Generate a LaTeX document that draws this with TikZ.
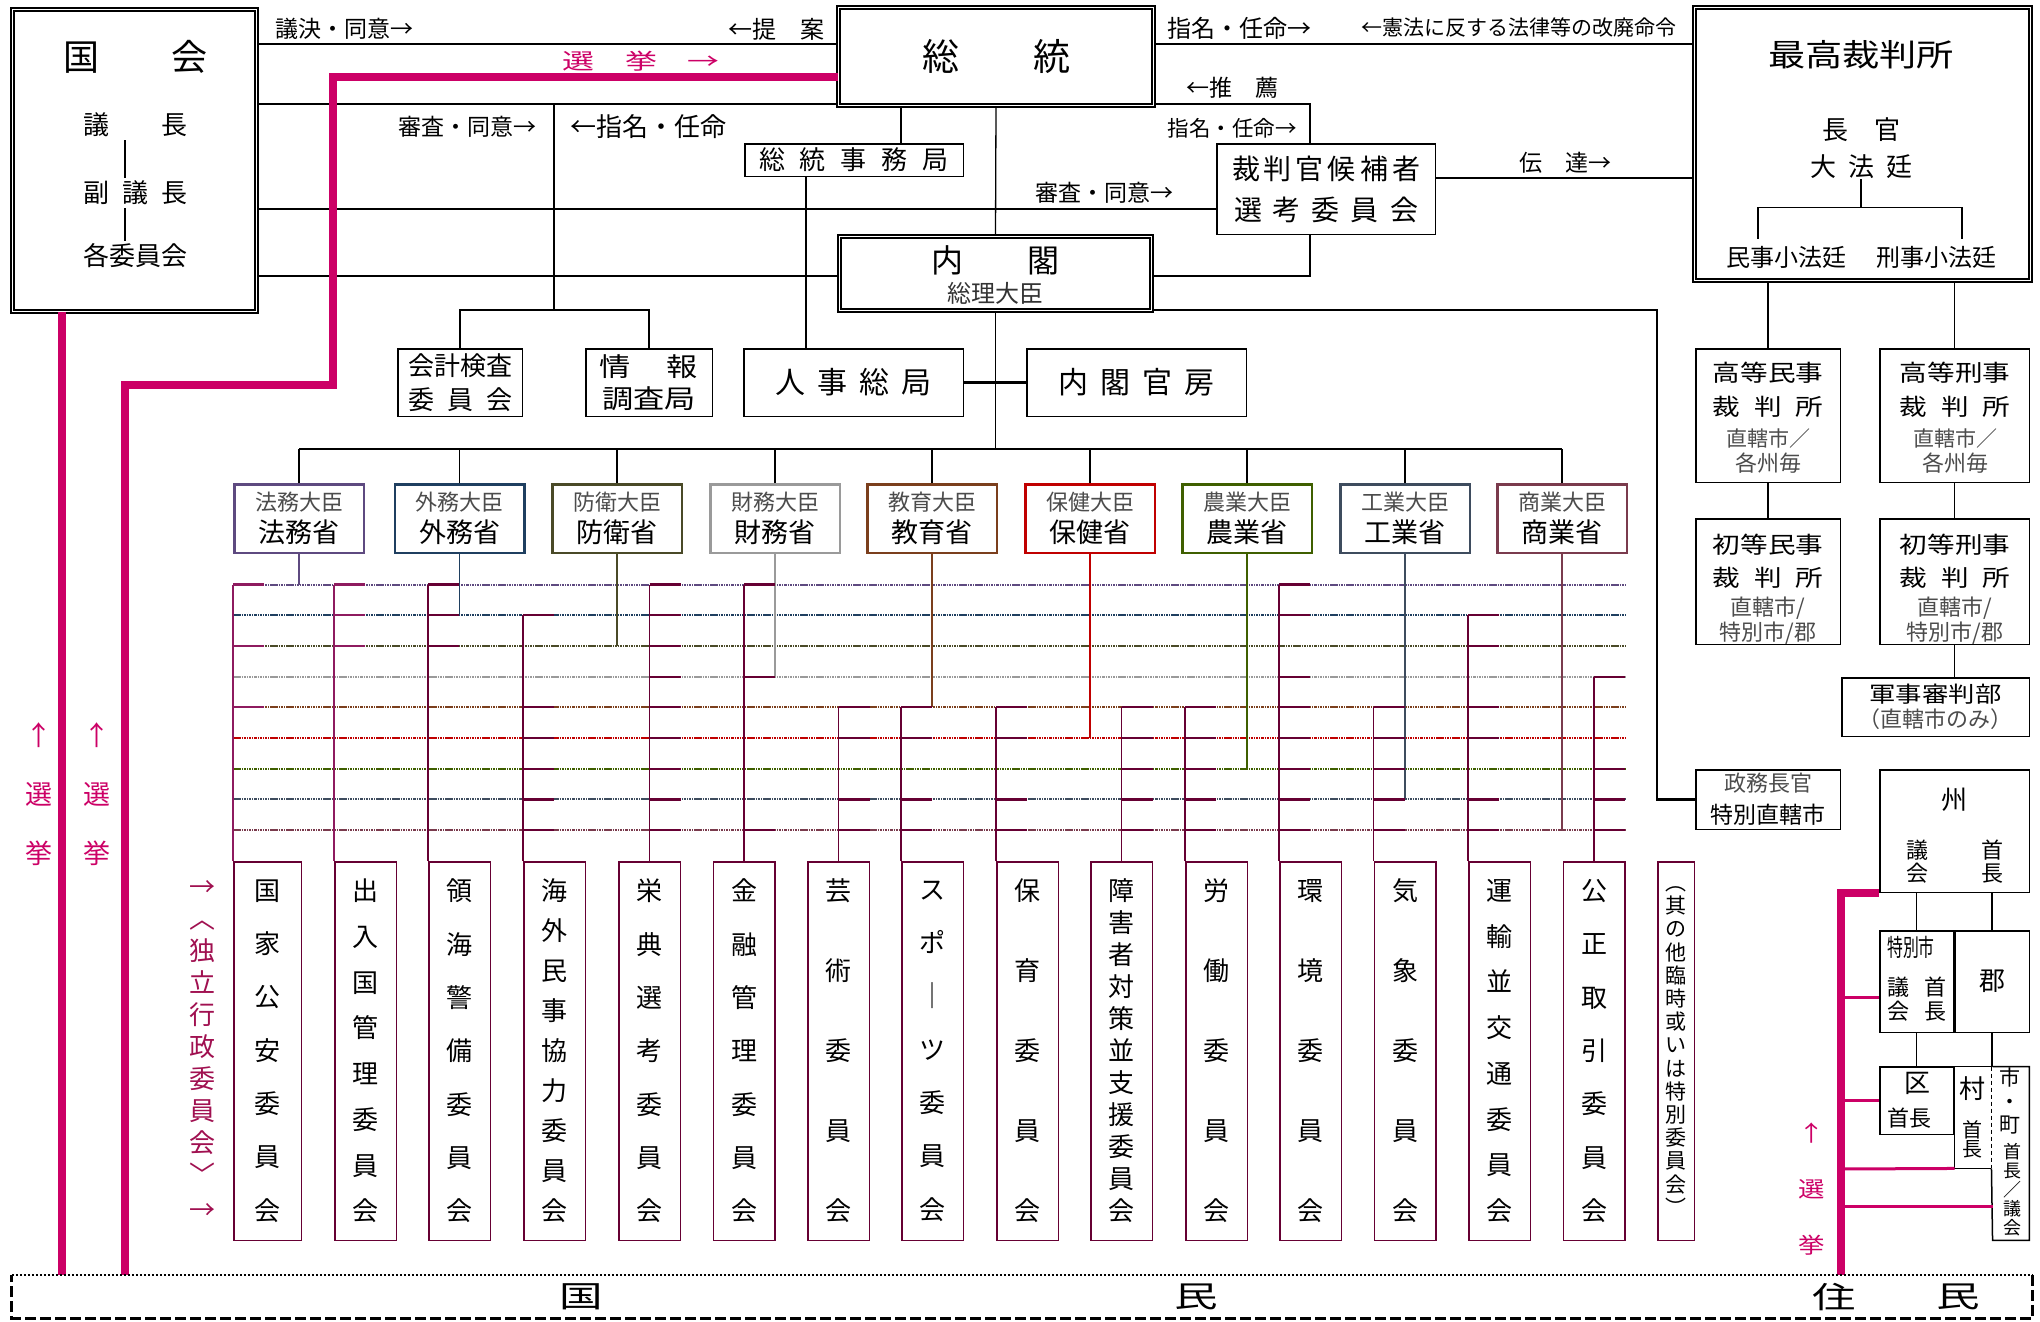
\documentclass[tikz,border=0pt]{standalone}
\usepackage{fontspec}
\usepackage{graphicx}
\setmainfont{Noto Sans CJK JP}
\newfontfamily\widefont{Noto Sans CJK JP}[FakeStretch=1.2]
\newfontfamily\xwidefont{Noto Sans CJK JP}[FakeStretch=1.45]
\usetikzlibrary{positioning,calc}
\definecolor{minpurple}{HTML}{5E4A80}
\definecolor{minnavy}{HTML}{1F3F60}
\definecolor{minolive}{HTML}{4A4A28}
\definecolor{mingray}{HTML}{9A9A9A}
\definecolor{minbrown}{HTML}{7B3F1D}
\definecolor{minred}{HTML}{C00000}
\definecolor{mingreen}{HTML}{3F5F00}
\definecolor{minslate}{HTML}{3E4C5E}
\definecolor{minrose}{HTML}{7A3B4D}
\definecolor{commaroon}{HTML}{660033}
\definecolor{commagenta}{HTML}{8E1B5F}
\definecolor{elecpink}{HTML}{CC0066}
\definecolor{indepred}{HTML}{A01050}
\newcommand\fsz[2]{\fontsize{#1}{#2}\selectfont}
\newcommand\gp[1]{\hspace{#1pt}}

\begin{document}
\begin{tikzpicture}[
  x=1pt, y=-1pt,
  font=\fsz{23}{26},
  txt/.style={inner sep=0pt, align=center},
  box/.style={draw, line width=1.5pt, inner sep=0pt, align=center},
  dbox/.style={draw, line width=1.5pt, double=white, double distance=1.6pt, inner sep=0pt, align=center},
  minbox/.style={draw, line width=2.5pt, minimum width=129.5pt, minimum height=68.5pt,
    inner sep=0pt, align=center, font=\fsz{27}{32}},
  combox/.style={draw=commaroon, line width=1.5pt, minimum width=61.5pt, minimum height=378.5pt,
    inner sep=0pt, align=center},
  link/.style={line width=1.3pt},
  heavy/.style={line width=2.4pt},
  elec/.style={draw=elecpink, line width=8pt},
  electhin/.style={draw=elecpink, line width=3pt},
  bus/.style={line width=2pt, dash pattern=on 2.5pt off 0.8pt on 1.2pt off 0.8pt},
  cvert/.style={line width=1.8pt},
  stub/.style={line width=2.2pt},
]
\path[use as bounding box, fill=white] (0,0) rectangle (2040,1322);

% national assembly
\node[dbox, minimum width=244pt, minimum height=302pt] (kokkai) at (134.5,160.5) {};
\node[txt, font=\fsz{36}{40}] (kokkaiT) at (135,57) {国　　会};
\node[txt, font=\fsz{26}{30}, inner sep=3pt] (gichou) at (135,125) {議　　長};
\node[txt, font=\fsz{26}{30}, inner sep=3pt] (fukugichou) at (135,193) {副\gp{13}議\gp{13}長};
\node[txt, font=\fsz{26}{30}, inner sep=3pt] (iinkai) at (135,256) {各委員会};

% president, cabinet
\node[dbox, minimum width=315pt, minimum height=98pt, font=\fsz{37}{40}] (soutou) at (996,56.5) {総　　統};
\node[box, minimum width=218.5pt, minimum height=32.5pt, font=\fsz{26}{30}] (jimukyoku) at (854,160) {総\gp{15}統\gp{15}事\gp{15}務\gp{15}局};
\node[dbox, minimum width=312pt, minimum height=74pt] (naikaku) at (995.5,273.5) {};
\node[txt, font=\fsz{32}{36}] (naikakuT) at (995.5,260) {内　　閣};
\node[txt, font=\fsz{24}{28}, color=black!80] (souri) at (995.5,293) {総理大臣};
\node[box, minimum width=218.5pt, minimum height=90.5pt, font=\fsz{28}{41}] (senkou) at (1326,189)
  {裁\gp{4}判\gp{4}官\gp{4}候\gp{4}補\gp{4}者\\選\gp{11}考\gp{11}委\gp{11}員\gp{11}会};

\node[box, minimum width=124.5pt, minimum height=67.5pt, font=\fsz{26}{34}] (kaikei) at (460,382.5) {会計検査\\委\gp{13}員\gp{13}会};
\node[box, minimum width=126.5pt, minimum height=67.5pt, font=\widefont\fsz{26}{32}] (jouhou) at (649,382.5) {情\gp{36}報\\調査局};
\node[box, minimum width=219.5pt, minimum height=67.5pt, font=\fsz{30}{34}] (jinji) at (853.5,382.5) {人\gp{12}事\gp{12}総\gp{12}局};
\node[box, minimum width=219.5pt, minimum height=67.5pt, font=\fsz{30}{34}] (kanbou) at (1136.5,382.5) {内\gp{12}閣\gp{12}官\gp{12}房};

% supreme court
\node[dbox, minimum width=336pt, minimum height=273pt] (saikou) at (1862.5,144) {};
\node[txt, font=\widefont\fsz{31}{34}] (saikouT) at (1861,55) {最高裁判所};
\node[txt, font=\fsz{26}{30}] (choukan) at (1861,130) {長　官};
\node[txt, font=\fsz{26}{30}] (daihoutei) at (1861,167) {大\gp{12}法\gp{12}廷};
\node[txt, font=\fsz{24}{28}, inner sep=7pt] (minji) at (1786,257) {民事小法廷};
\node[txt, font=\fsz{24}{28}, inner sep=7pt] (keiji) at (1936,257) {刑事小法廷};

% courts
\node[box, minimum width=144.5pt, minimum height=133.5pt] (kouminji) at (1768,415.5) {};
\node[txt, font=\fsz{23}{33}] (kouminjiT) at (1768,418)
  {{\widefont 高等民事}\\[1pt]{\widefont 裁\gp{14}判\gp{14}所}\\[-2pt]{\color{black!70}\fsz{21}{24}直轄市／}\\[-8pt]{\color{black!70}\fsz{22}{24}各州毎}};
\node[box, minimum width=149.5pt, minimum height=133.5pt] (koukeiji) at (1954.5,415.5) {};
\node[txt, font=\fsz{23}{33}] (koukeijiT) at (1955,418)
  {{\widefont 高等刑事}\\[1pt]{\widefont 裁\gp{14}判\gp{14}所}\\[-2pt]{\color{black!70}\fsz{21}{24}直轄市／}\\[-8pt]{\color{black!70}\fsz{22}{24}各州毎}};
\node[box, minimum width=144.5pt, minimum height=125.5pt] (shominji) at (1768,581.5) {};
\node[txt, font=\fsz{23}{33}] (shominjiT) at (1768,589)
  {{\widefont 初等民事}\\{\widefont 裁\gp{14}判\gp{14}所}\\[-4pt]{\color{black!70}\fsz{22}{24}直轄市/}\\[-8pt]{\color{black!70}\fsz{22}{24}特別市/郡}};
\node[box, minimum width=149.5pt, minimum height=125.5pt] (shokeiji) at (1954.5,581.5) {};
\node[txt, font=\fsz{23}{33}] (shokeijiT) at (1955,589)
  {{\widefont 初等刑事}\\{\widefont 裁\gp{14}判\gp{14}所}\\[-4pt]{\color{black!70}\fsz{22}{24}直轄市/}\\[-8pt]{\color{black!70}\fsz{22}{24}特別市/郡}};
\node[box, minimum width=187.5pt, minimum height=58.5pt, font=\fsz{22}{25}] (gunji) at (1935.5,707)
  {{\widefont 軍事審判部}\\{\color{black!70}（直轄市のみ）}};
\node[box, minimum width=144.5pt, minimum height=59.5pt, font=\fsz{23}{32}] (seimu) at (1768,799.5)
  {{\color{black!70}\fsz{22}{32}政務長官}\\特別直轄市};

% local government
\node[box, minimum width=149.5pt, minimum height=122.5pt] (shu) at (1954.5,831) {};
\node[txt, font=\fsz{26}{30}] (shuT) at (1954,800) {州};
\node[txt, font=\fsz{22}{23}] (shugikai) at (1917,862) {議\\会};
\node[txt, font=\fsz{22}{23}] (shuchou) at (1992,862) {首\\長};
\node[box, minimum width=73.5pt, minimum height=101.5pt] (toku) at (1916.5,981.5) {};
\node[txt, font=\fsz{24}{26}] (tokuT) at (1911,947) {\scalebox{0.66}[1]{特別市}};
\node[txt, font=\fsz{22}{24}] (tokugikai) at (1898,999) {議\\会};
\node[txt, font=\fsz{22}{24}] (tokuchou) at (1935,999) {首\\長};
\node[box, minimum width=74.5pt, minimum height=101.5pt, font=\fsz{26}{30}] (gun) at (1992,981.5) {郡};
\node[box, minimum width=73.5pt, minimum height=67.5pt] (ku) at (1916.5,1100.5) {};
\node[txt, font=\fsz{26}{30}] (kuT) at (1917,1083) {区};
\node[txt, font=\fsz{22}{26}] (kuchou) at (1909,1118) {首長};
\node[minimum width=36.5pt, minimum height=101.5pt, inner sep=0pt] (mura) at (1973,1117.5) {};
\node[txt, font=\fsz{26}{30}] (muraT) at (1972,1089) {村};
\node[txt, font=\fsz{20}{19}] (murachou) at (1972,1139) {首\\長};
\node[minimum width=36.5pt, minimum height=173.5pt, inner sep=0pt] (shichou) at (2011,1153.5) {};
\node[txt, font=\fsz{21}{23.5}] (shichouT) at (2010,1101) {市\\・\\町};
\node[txt, font=\fsz{18}{19}] (shichouchou) at (2012,1190) {首\\長\\／\\議\\会};

% ministries
\node[minbox, draw=minpurple] (houmu) at (299,518.5) {{\fsz{22}{24}\color{black!70}法務大臣}\\法務省};
\node[minbox, draw=minnavy] (gaimu) at (459.5,518.5) {{\fsz{22}{24}\color{black!70}外務大臣}\\外務省};
\node[minbox, draw=minolive] (bouei) at (617,518.5) {{\fsz{22}{24}\color{black!70}防衛大臣}\\防衛省};
\node[minbox, draw=mingray] (zaimu) at (775,518.5) {{\fsz{22}{24}\color{black!70}財務大臣}\\財務省};
\node[minbox, draw=minbrown] (kyouiku) at (932,518.5) {{\fsz{22}{24}\color{black!70}教育大臣}\\教育省};
\node[minbox, draw=minred] (hoken) at (1090,518.5) {{\fsz{22}{24}\color{black!70}保健大臣}\\保健省};
\node[minbox, draw=mingreen] (nougyou) at (1247,518.5) {{\fsz{22}{24}\color{black!70}農業大臣}\\農業省};
\node[minbox, draw=minslate] (kougyou) at (1405,518.5) {{\fsz{22}{24}\color{black!70}工業大臣}\\工業省};
\node[minbox, draw=minrose] (shougyou) at (1562,518.5) {{\fsz{22}{24}\color{black!70}商業大臣}\\商業省};

% independent committees
\node[combox, minimum width=67.5pt, font=\fsz{26}{53.33}] (com1) at (267.5,1051) {国\\家\\公\\安\\委\\員\\会};
\node[combox, font=\fsz{26}{45.71}] (com2) at (365.5,1051) {出\\入\\国\\管\\理\\委\\員\\会};
\node[combox, font=\fsz{26}{53.33}] (com3) at (459.5,1051) {領\\海\\警\\備\\委\\員\\会};
\node[combox, font=\fsz{26}{40}] (com4) at (554.5,1051) {海\\外\\民\\事\\協\\力\\委\\員\\会};
\node[combox, font=\fsz{26}{53.33}] (com5) at (649.5,1051) {栄\\典\\選\\考\\委\\員\\会};
\node[combox, font=\fsz{26}{53.33}] (com6) at (744,1051) {金\\融\\管\\理\\委\\員\\会};
\node[combox, font=\fsz{26}{80}] (com7) at (838.5,1051) {芸\\術\\委\\員\\会};
\node[combox, font=\fsz{26}{53.33}] (com8) at (932.5,1051) {ス\\ポ\\｜\\ツ\\委\\員\\会};
\node[combox, font=\fsz{26}{80}] (com9) at (1027.5,1051) {保\\育\\委\\員\\会};
\node[combox, font=\fsz{26}{32}] (com10) at (1121.5,1051) {障\\害\\者\\対\\策\\並\\支\\援\\委\\員\\会};
\node[combox, font=\fsz{26}{80}] (com11) at (1216.5,1051) {労\\働\\委\\員\\会};
\node[combox, font=\fsz{26}{80}] (com12) at (1310.5,1051) {環\\境\\委\\員\\会};
\node[combox, font=\fsz{26}{80}] (com13) at (1405,1051) {気\\象\\委\\員\\会};
\node[combox, font=\fsz{26}{45.71}] (com14) at (1499.5,1051) {運\\輸\\並\\交\\通\\委\\員\\会};
\node[combox, font=\fsz{26}{53.33}] (com15) at (1594,1051) {公\\正\\取\\引\\委\\員\\会};
\node[combox, minimum width=36.5pt, font=\fsz{21}{23.2}] (sonota) at (1676,1051)
  {︵\\其\\の\\他\\臨\\時\\或\\い\\は\\特\\別\\委\\員\\会\\︶};
\node[txt, font=\fsz{26}{30}, color=indepred] (arrowA) at (202,889) {→};
\node[txt, font=\fsz{26}{32}, color=indepred] (dokuritsu) at (202,1053) {︿\\独\\立\\行\\政\\委\\員\\会\\﹀};
\node[txt, font=\fsz{26}{30}, color=indepred] (arrowB) at (202,1212) {→};

% people
\node[minimum width=2020pt, minimum height=43pt, inner sep=0pt] (kokumin) at (1022,1296.5) {};
\node[txt, font=\xwidefont\fsz{30}{32}] (kokuminA) at (581,1297) {国};
\node[txt, font=\xwidefont\fsz{30}{32}] (kokuminB) at (1196,1297) {民};
\node[txt, font=\xwidefont\fsz{30}{32}] (juminA) at (1834,1297) {住};
\node[txt, font=\xwidefont\fsz{30}{32}] (juminB) at (1958,1297) {民};
\coordinate (trunk) at (1841,1275);

% line labels
\node[txt] (giketsu) at (344,29) {議決・同意→};
\node[txt, font=\fsz{24}{26}] (teian) at (776,29) {←提　案};
\node[txt, font=\fsz{24}{26}] (shimeiA) at (1239,28) {指名・任命→};
\node[txt, font=\fsz{21}{24}] (kaihai) at (1519,28) {←憲法に反する法律等の改廃命令};
\node[txt] (shinsaA) at (467,127) {審査・同意→};
\node[txt, font=\fsz{26}{28}] (shimeiB) at (648,127) {←指名・任命};
\node[txt] (shinsaB) at (1104,193) {審査・同意→};
\node[txt] (suisen) at (1232,88) {←推　薦};
\node[txt, font=\fsz{21.5}{24}] (shimeiC) at (1232,128) {指名・任命→};
\node[txt] (dentatsu) at (1565,163) {伝　達→};
\node[txt, font=\xwidefont\fsz{22}{26}, color=elecpink] (senkyoTop) at (641,61) {選\gp{31}挙\gp{31}→};
\node[txt, font=\fsz{27}{59}, color=elecpink] (senkyoA) at (39,794) {↑\\選\\挙};
\node[txt, font=\fsz{27}{59}, color=elecpink] (senkyoB) at (97,794) {↑\\選\\挙};
\node[txt, font=\widefont\fsz{22}{56}, color=elecpink] (senkyoC) at (1812,1189) {↑\\選\\挙};

% connectors, top
\draw[link] ([xshift=-10pt]gichou.south) -- ([xshift=-10pt]fukugichou.north);
\draw[link] ([xshift=-10pt]fukugichou.south) -- ([xshift=-10pt]iinkai.north);
\draw[heavy] (kokkai.east |- 0,44) -- (soutou.west |- 0,44);
\draw[link] (kokkai.east |- 0,104) -- (soutou.west |- 0,104);
\draw[link] (kokkai.east |- 0,209) -- (senkou.west |- 0,209);
\draw[link] (kokkai.east |- 0,276) -- (naikaku.west |- 0,276);
\draw[heavy] (soutou.east |- 0,44) -- (saikou.west |- 0,44);
\draw[link] (soutou.east |- 0,104) -| (senkou.north -| 1310,0);
\draw[link] (senkou.south -| 1310,0) |- (naikaku.east |- 0,276);
\draw[link] (senkou.east |- 0,178) -- (saikou.west |- 0,178);
\draw[link] (soutou.south -| 901,0) -- (jimukyoku.north -| 901,0);
\draw[link] (jimukyoku.south -| 806,0) -- (jinji.north -| 806,0);
\draw[link] (soutou.south) -- (naikaku.north);
\draw[link] (kaikei.north) |- (554,310) coordinate (kk) -| (jouhou.north);
\draw[link] (kk) -- (kk |- 0,104);
\draw[heavy] (jinji.east) -- (kanbou.west);
\draw[link] (naikaku.south) -- (naikaku.south |- 0,449);
\draw[heavy] (houmu.north |- 0,449) -- (shougyou.north |- 0,449);
\foreach \m in {houmu,gaimu,bouei,zaimu,kyouiku,hoken,nougyou,kougyou,shougyou}
  \draw[link] (\m.north) -- (\m.north |- 0,449);
\draw[heavy] (naikaku.east |- 0,310) -| (seimu.west -| 1657,0) -- (seimu.west);

% connectors, courts and local government
\draw[link] (daihoutei.south) -- ++(0,28) coordinate (brk);
\draw[link] (minji.north -| 1758,0) |- (brk) -| (keiji.north -| 1962,0);
\draw[link] (saikou.south -| kouminji.north) -- (kouminji.north);
\draw[link] (saikou.south -| koukeiji.north) -- (koukeiji.north);
\draw[link] (kouminji.south) -- (shominji.north);
\draw[link] (koukeiji.south) -- (shokeiji.north);
\draw[link] (shokeiji.south) -- (shokeiji.south |- gunji.north);
\draw[link] (shu.south -| toku.north) -- (toku.north);
\draw[link] (shu.south -| gun.north) -- (gun.north);
\draw[link] (toku.south) -- (ku.north);
\draw[link] (gun.south) -- (gun.south |- mura.north);
\draw[box] (mura.north east) -- (mura.north west) -- (mura.south west) -- (mura.south east);
\draw[line width=1.5pt, dash pattern=on 4pt off 3pt] (mura.north east) -- (mura.south east);
\draw[box] (mura.south east) -- (shichou.south west) -- (shichou.south east) -- (shichou.north east) -- (shichou.north west);

% ministry lines
\coordinate (bus1) at (233,584.5);
\coordinate (bus2) at (233,615.2);
\coordinate (bus3) at (233,645.9);
\coordinate (bus4) at (233,676.6);
\coordinate (bus5) at (233,707.3);
\coordinate (bus6) at (233,738);
\coordinate (bus7) at (233,768.7);
\coordinate (bus8) at (233,799.4);
\coordinate (bus9) at (233,830.1);
\foreach \b/\col in {1/minpurple,2/minnavy,3/minolive,4/mingray,5/minbrown,6/minred,7/mingreen,8/minslate,9/minrose}
  \draw[bus, draw=\col] (bus\b) -- (bus\b -| com15.east);
\draw[cvert, draw=minpurple] (houmu.south) -- (houmu.south |- bus1);
\draw[cvert, draw=minnavy] (gaimu.south) -- (gaimu.south |- bus2);
\draw[cvert, draw=minolive] (bouei.south) -- (bouei.south |- bus3);
\draw[cvert, draw=mingray] (zaimu.south) -- (zaimu.south |- bus4);
\draw[cvert, draw=minbrown] (kyouiku.south) -- (kyouiku.south |- bus5);
\draw[cvert, draw=minred] (hoken.south) -- (hoken.south |- bus6);
\draw[cvert, draw=mingreen] (nougyou.south) -- (nougyou.south |- bus7);
\draw[cvert, draw=minslate] (kougyou.south) -- (kougyou.south |- bus8);
\draw[cvert, draw=minrose] (shougyou.south) -- (shougyou.south |- bus9);

% committee links
\draw[cvert, draw=commagenta] (com1.north west) -- (com1.north west |- bus1);
\foreach \b in {1,3,5} \draw[stub, draw=commagenta] (com1.north west |- bus\b) -- ++(31,0);
\draw[cvert, draw=commagenta] (com2.north west) -- (com2.north west |- bus1);
\foreach \b in {1,2,3} \draw[stub, draw=commagenta] (com2.north west |- bus\b) -- ++(31,0);
\draw[cvert, draw=commaroon] (com3.north west) -- (com3.north west |- bus1);
\foreach \b in {1,2,3} \draw[stub, draw=commaroon] (com3.north west |- bus\b) -- ++(31,0);
\draw[cvert, draw=commaroon] (com4.north west) -- (com4.north west |- bus2);
\foreach \b in {2,5,6,7,8,9} \draw[stub, draw=commaroon] (com4.north west |- bus\b) -- ++(31,0);
\draw[cvert, draw=commaroon] (com5.north) -- (com5.north |- bus1);
\foreach \b in {1,...,9} \draw[stub, draw=commaroon] (com5.north |- bus\b) -- ++(31,0);
\draw[cvert, draw=commaroon] (com6.north) -- (com6.north |- bus1);
\foreach \b in {1,4,9} \draw[stub, draw=commaroon] (com6.north |- bus\b) -- ++(31,0);
\draw[cvert, draw=commaroon] (com7.north) -- (com7.north |- bus5);
\foreach \b in {5,6,8,9} \draw[stub, draw=commaroon] (com7.north |- bus\b) -- ++(31,0);
\draw[cvert, draw=commaroon] (com8.north west) -- (com8.north west |- bus5);
\foreach \b in {5,6,8,9} \draw[stub, draw=commaroon] (com8.north west |- bus\b) -- ++(31,0);
\draw[cvert, draw=commaroon] (com9.north west) -- (com9.north west |- bus5);
\foreach \b in {5,6,8,9} \draw[stub, draw=commaroon] (com9.north west |- bus\b) -- ++(31,0);
\draw[cvert, draw=commaroon] (com10.north) -- (com10.north |- bus5);
\foreach \b in {5,...,9} \draw[stub, draw=commaroon] (com10.north |- bus\b) -- ++(31,0);
\draw[cvert, draw=commaroon] (com11.north west) -- (com11.north west |- bus5);
\foreach \b in {5,...,9} \draw[stub, draw=commaroon] (com11.north west |- bus\b) -- ++(31,0);
\draw[cvert, draw=commaroon] (com12.north west) -- (com12.north west |- bus1);
\foreach \b in {1,2,4,5,6,7,8,9} \draw[stub, draw=commaroon] (com12.north west |- bus\b) -- ++(31,0);
\draw[cvert, draw=commaroon] (com13.north west) -- (com13.north west |- bus5);
\foreach \b in {5,...,9} \draw[stub, draw=commaroon] (com13.north west |- bus\b) -- ++(31,0);
\draw[cvert, draw=commaroon] (com14.north west) -- (com14.north west |- bus2);
\foreach \b in {2,3,5,6,8,9} \draw[stub, draw=commaroon] (com14.north west |- bus\b) -- ++(31,0);
\draw[cvert, draw=commaroon] (com15.north) -- (com15.north |- bus4);
\foreach \b in {4,7,8,9} \draw[stub, draw=commaroon] (com15.north |- bus\b) -- ++(31,0);

% elections
\draw[elec] (kokkai.south -| 62,0) -- (kokumin.north -| 62,0);
\draw[elec] (kokumin.north -| 125,0) |- (333,385) |- (soutou.west |- 0,77);
\draw[elec] (trunk) |- (shu.south west);
\draw[electhin] (trunk |- 0,997) -- (toku.west |- 0,997);
\draw[electhin] (trunk |- 0,1100) -- (ku.west |- 0,1100);
\draw[electhin] (trunk |- 0,1169) -- (mura.south west);
\draw[electhin] (trunk |- 0,1206) -- (shichou.west |- 0,1206);

% frame of the people
\draw[line width=2.5pt, dash pattern=on 2pt off 2pt] (kokumin.north west) -- (kokumin.north east);
\draw[line width=3pt, dash pattern=on 11pt off 4pt] (kokumin.north east) -- (kokumin.south east)
  -- (kokumin.south west) -- (kokumin.north west);
\end{tikzpicture}
\end{document}
